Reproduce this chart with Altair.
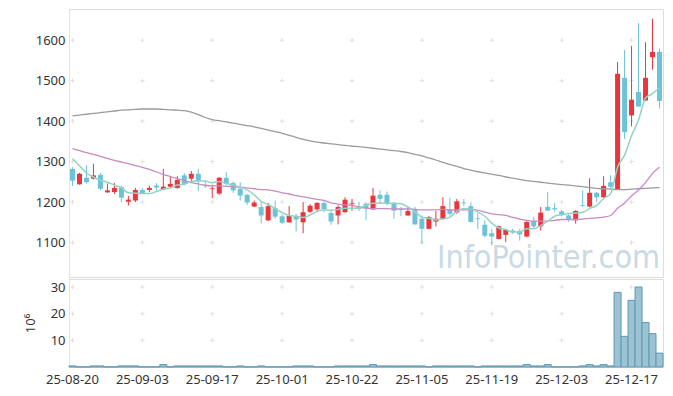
import altair as alt
import pandas as pd

dates = [
    "25-08-20", "25-08-21", "25-08-22", "25-08-25", "25-08-26", "25-08-27", "25-08-28", "25-08-29",
    "25-09-01", "25-09-02", "25-09-03", "25-09-04", "25-09-05", "25-09-08", "25-09-09", "25-09-10",
    "25-09-11", "25-09-12", "25-09-15", "25-09-16", "25-09-17", "25-09-18", "25-09-19", "25-09-22",
    "25-09-23", "25-09-24", "25-09-25", "25-09-26", "25-09-29", "25-09-30",
    "25-10-01", "25-10-02", "25-10-10", "25-10-13", "25-10-14", "25-10-15", "25-10-16", "25-10-17",
    "25-10-20", "25-10-21", "25-10-22", "25-10-23", "25-10-24", "25-10-27", "25-10-28", "25-10-29",
    "25-10-30", "25-10-31",
    "25-11-03", "25-11-04", "25-11-05", "25-11-06", "25-11-07", "25-11-10", "25-11-11", "25-11-12",
    "25-11-13", "25-11-14", "25-11-17", "25-11-18", "25-11-19", "25-11-20", "25-11-21", "25-11-24",
    "25-11-25", "25-11-26", "25-11-27", "25-11-28",
    "25-12-01", "25-12-02", "25-12-03", "25-12-04", "25-12-05", "25-12-08", "25-12-09", "25-12-10",
    "25-12-11", "25-12-12", "25-12-15", "25-12-16", "25-12-17", "25-12-18", "25-12-19", "25-12-22",
    "25-12-23",
]

opens = [1282, 1244, 1260, 1258, 1267, 1224, 1225, 1237, 1201, 1204,
         1230, 1230, 1241, 1231, 1238, 1235, 1266, 1258, 1270, 1243,
         1232, 1221, 1260, 1247, 1233, 1218, 1189, 1188, 1155, 1185,
         1165, 1150, 1166, 1150, 1176, 1182, 1198, 1173, 1167, 1175,
         1195, 1189, 1196, 1182, 1218, 1218, 1198, 1182, 1167, 1183,
         1159, 1134, 1152, 1159, 1181, 1175, 1199, 1190, 1160, 1144,
         1123, 1109, 1119, 1130, 1128, 1115, 1153, 1140, 1188, 1185,
         1177, 1167, 1155, 1193, 1189, 1223, 1212, 1249, 1231, 1507,
         1414, 1472, 1451, 1558, 1571]
highs = [1286, 1272, 1292, 1295, 1272, 1246, 1247, 1240, 1215, 1235,
         1235, 1241, 1247, 1282, 1262, 1264, 1272, 1277, 1282, 1253,
         1243, 1262, 1274, 1251, 1249, 1220, 1204, 1200, 1198, 1204,
         1170, 1190, 1171, 1200, 1195, 1200, 1202, 1181, 1192, 1212,
         1208, 1201, 1200, 1235, 1229, 1226, 1200, 1188, 1188, 1188,
         1167, 1166, 1178, 1212, 1210, 1208, 1208, 1200, 1173, 1155,
         1134, 1142, 1134, 1134, 1134, 1153, 1163, 1188, 1225, 1198,
         1181, 1173, 1180, 1229, 1259, 1225, 1264, 1266, 1546, 1576,
         1586, 1642, 1595, 1653, 1579]
lows = [1240, 1243, 1246, 1256, 1229, 1223, 1220, 1200, 1192, 1200,
        1220, 1225, 1229, 1230, 1236, 1233, 1241, 1247, 1227, 1235,
        1210, 1218, 1241, 1223, 1204, 1193, 1188, 1148, 1153, 1159,
        1146, 1149, 1128, 1123, 1173, 1175, 1175, 1144, 1145, 1174,
        1179, 1178, 1155, 1181, 1196, 1192, 1159, 1165, 1166, 1144,
        1097, 1133, 1140, 1158, 1167, 1171, 1190, 1150, 1134, 1113,
        1093, 1108, 1101, 1121, 1105, 1113, 1134, 1130, 1178, 1176,
        1165, 1151, 1147, 1188, 1187, 1200, 1208, 1233, 1230, 1356,
        1387, 1435, 1450, 1527, 1431]
closes = [1253, 1270, 1249, 1266, 1233, 1229, 1235, 1211, 1206, 1230,
          1222, 1235, 1236, 1238, 1245, 1255, 1245, 1270, 1251, 1240,
          1234, 1260, 1245, 1229, 1216, 1199, 1199, 1167, 1190, 1164,
          1149, 1166, 1157, 1175, 1191, 1198, 1183, 1152, 1188, 1206,
          1197, 1183, 1184, 1216, 1208, 1196, 1179, 1180, 1178, 1145,
          1134, 1163, 1159, 1190, 1171, 1202, 1197, 1151, 1158, 1117,
          1115, 1140, 1132, 1125, 1120, 1151, 1140, 1174, 1179, 1182,
          1170, 1156, 1178, 1191, 1223, 1212, 1240, 1238, 1517, 1373,
          1453, 1436, 1507, 1571, 1450]

ma5 = [1307, 1290, 1272, 1262, 1254, 1249, 1242, 1235, 1223, 1222,
       1221, 1221, 1226, 1232, 1235, 1242, 1244, 1251, 1253, 1252,
       1248, 1251, 1246, 1242, 1237, 1230, 1218, 1202, 1194, 1184,
       1174, 1167, 1165, 1162, 1168, 1177, 1181, 1180, 1182, 1185,
       1185, 1185, 1192, 1197, 1198, 1197, 1197, 1196, 1188, 1176,
       1163, 1160, 1156, 1158, 1163, 1177, 1184, 1182, 1176, 1165,
       1148, 1136, 1132, 1126, 1126, 1134, 1134, 1142, 1153, 1165,
       1169, 1172, 1173, 1175, 1184, 1192, 1209, 1221, 1286, 1316,
       1364, 1403, 1457, 1468, 1483]
ma20 = [1332, 1327, 1322, 1318, 1313, 1308, 1303, 1299, 1295, 1290,
        1286, 1281, 1275, 1268, 1263, 1258, 1253, 1248, 1245, 1241,
        1240, 1240, 1239, 1238, 1237, 1235, 1233, 1231, 1230, 1227,
        1223, 1220, 1216, 1213, 1210, 1207, 1204, 1198, 1195, 1193,
        1192, 1188, 1185, 1184, 1184, 1184, 1183, 1183, 1183, 1182,
        1181, 1181, 1181, 1182, 1181, 1181, 1181, 1181, 1180, 1175,
        1171, 1169, 1167, 1162, 1158, 1155, 1153, 1153, 1153, 1155,
        1157, 1157, 1157, 1158, 1160, 1161, 1163, 1167, 1185, 1198,
        1215, 1230, 1248, 1271, 1287]
ma60 = [1413, 1415, 1417, 1419, 1421, 1423, 1425, 1427, 1428, 1429,
        1430, 1430, 1430, 1429, 1428, 1427, 1426, 1422, 1416, 1409,
        1404, 1401, 1398, 1395, 1392, 1389, 1386, 1382, 1378, 1374,
        1370, 1365, 1360, 1355, 1351, 1348, 1346, 1344, 1342, 1340,
        1338, 1337, 1335, 1333, 1331, 1329, 1327, 1325, 1322, 1318,
        1314, 1309, 1304, 1298, 1293, 1288, 1283, 1279, 1275, 1272,
        1269, 1266, 1262, 1259, 1256, 1253, 1251, 1249, 1247, 1245,
        1243, 1242, 1240, 1238, 1236, 1234, 1233, 1232, 1231, 1231,
        1232, 1233, 1234, 1235, 1236]

volumes = [0.4, 0.05, 0.05, 0.4, 0.4, 0.05, 0.05, 0.4, 0.4, 0.4,
           0.05, 0.05, 0.05, 0.9, 0.05, 0.4, 0.4, 0.4, 0.4, 0.4,
           0.4, 0.4, 0.05, 0.05, 0.4, 0.05, 0.05, 0.4, 0.05, 0.05,
           0.05, 0.05, 0.4, 0.4, 0.4, 0.05, 0.05, 0.05, 0.4, 0.4,
           0.4, 0.4, 0.4, 0.9, 0.4, 0.4, 0.4, 0.4, 0.4, 0.4,
           0.4, 0.05, 0.4, 0.4, 0.4, 0.4, 0.4, 0.4, 0.05, 0.4,
           0.4, 0.4, 0.4, 0.4, 0.4, 0.9, 0.4, 0.4, 0.9, 0.05,
           0.05, 0.05, 0.05, 0.4, 0.9, 0.4, 0.9, 0.4, 28.0, 11.5,
           25.0, 30.0, 16.7, 12.5, 5.2]

tick_dates = ["25-08-20", "25-09-03", "25-09-17", "25-10-01", "25-10-22",
              "25-11-05", "25-11-19", "25-12-03", "25-12-17"]
price_ticks = [1100, 1200, 1300, 1400, 1500, 1600]
vol_ticks = [10, 20, 30]

RED = "#e8363c"
BLUE = "#6cc3d8"
FONT = "Noto Sans"

df = pd.DataFrame({"date": dates, "open": opens, "high": highs, "low": lows,
                   "close": closes, "ma5": ma5, "ma20": ma20, "ma60": ma60,
                   "volume": volumes})
df["dir"] = ["up" if c >= o else "down" for o, c in zip(opens, closes)]

cross_price = pd.DataFrame([{"date": d, "v": v} for d in tick_dates for v in price_ticks])
cross_vol = pd.DataFrame([{"date": d, "v": v} for d in tick_dates for v in vol_ticks])

xscale = alt.Scale(domain=dates, paddingInner=0, paddingOuter=0)
x_plain = alt.X("date:O", scale=xscale, axis=None)
pscale = alt.Scale(domain=[1015, 1677], nice=False, zero=False)
paxis = alt.Axis(values=price_ticks, format="d", title=None, grid=False, ticks=False,
                 domainColor="#e3e3e3", labelFont=FONT, labelFontSize=13,
                 labelColor="#333333", labelPadding=4)
color = alt.Color("dir:N", scale=alt.Scale(domain=["up", "down"], range=[RED, BLUE]),
                  legend=None)
CROSS = "M-1,0L1,0M0,-1L0,1"

base = alt.Chart(df)

p_cross = alt.Chart(cross_price).mark_point(
    shape=CROSS, size=20, filled=False, stroke="#e0e0e0", strokeWidth=1, opacity=1
).encode(x=x_plain, y=alt.Y("v:Q", scale=pscale, axis=paxis))

watermark = alt.Chart(pd.DataFrame({"t": ["InfoPointer.com"]})).mark_text(
    align="left", baseline="alphabetic", font="DejaVu Sans Condensed, Noto Sans",
    fontSize=32, color="#c9dae4"
).encode(x=alt.value(368), y=alt.value(259), text="t:N")

wicks = base.mark_rule(strokeWidth=1).encode(
    x=x_plain, y=alt.Y("low:Q", scale=pscale, axis=paxis), y2="high:Q", color=color)
bodies = base.mark_bar(size=5).encode(
    x=x_plain, y=alt.Y("open:Q", scale=pscale, axis=paxis), y2="close:Q", color=color)

def ma_line(field, col, w):
    return base.mark_line(strokeWidth=w, color=col, interpolate="monotone").encode(
        x=x_plain, y=alt.Y(f"{field}:Q", scale=pscale, axis=paxis))

price = alt.layer(
    p_cross, watermark, wicks, bodies,
    ma_line("ma60", "#9b9b9b", 1.3),
    ma_line("ma20", "#c98ac3", 1.3),
    ma_line("ma5", "#93d2c5", 1.5),
).properties(width=594, height=268)

vscale = alt.Scale(domain=[0, 33], nice=False)
vaxis = alt.Axis(values=vol_ticks, format="d", title="10⁶", grid=False, ticks=False,
                 domainColor="#e3e3e3", labelFont=FONT, labelFontSize=13,
                 labelColor="#333333", labelPadding=4, titleFont=FONT,
                 titleFontSize=13, titleFontWeight="normal", titleColor="#333333",
                 titleX=-39, titleY=44, titleAngle=-90, titleBaseline="middle",
                 titleAlign="center")
x_axis = alt.X("date:O", scale=xscale,
               axis=alt.Axis(values=tick_dates, title=None, labelAngle=0, ticks=False,
                             domain=False, grid=False, labelFont=FONT, labelFontSize=13,
                             labelColor="#333333", labelPadding=6))

v_cross = alt.Chart(cross_vol).mark_point(
    shape=CROSS, size=20, filled=False, stroke="#e0e0e0", strokeWidth=1, opacity=1
).encode(x=x_axis, y=alt.Y("v:Q", scale=vscale, axis=vaxis))
vbars = base.mark_bar(fill="#9cc3d4", stroke="#5f97b0", strokeWidth=1).encode(
    x=x_axis, y=alt.Y("volume:Q", scale=vscale, axis=vaxis))

volume = alt.layer(v_cross, vbars).properties(width=594, height=88)

chart = alt.vconcat(price, volume, spacing=0).properties(
    padding={"left": 15, "top": 0, "right": 0, "bottom": 0}
).configure_view(stroke="#e6e6e6").configure(background="white")

chart.save("out.html", embed_options={"renderer": "svg", "actions": False})
